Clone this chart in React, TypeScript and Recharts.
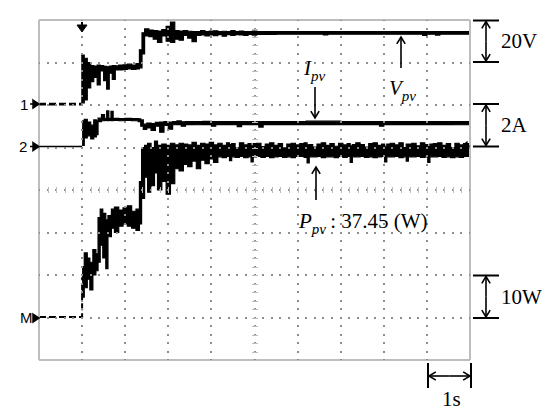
import {
  Area,
  ComposedChart,
  Line,
  Scatter,
  XAxis,
  YAxis,
} from "recharts";

// scope screen: 10 div x 8 div, 1 s/div
const gridX = [1, 2, 3, 4, 5, 6, 7, 8, 9];
const gridY = [1, 2, 3, 4, 5, 6, 7];
const minorX = Array.from({ length: 51 }, (_, k) => k / 5);
const minorY = Array.from({ length: 41 }, (_, k) => k / 5);

// channel 1: Vpv, 20 V/div, ground at div 6  -> [t, min, max]
const vpv = [
  [0.98, 1.0, 23.5], [1.05, 2.4, 22.0], [1.12, 8.0, 20.0], [1.2, 11.0, 18.6],
  [1.27, 13.0, 18.3], [1.35, 9.5, 18.8], [1.42, 16.0, 18.5], [1.5, 11.5, 18.2],
  [1.57, 7.5, 18.0], [1.63, 15.0, 18.3], [1.7, 12.0, 18.5], [1.77, 16.5, 18.4],
  [1.85, 16.5, 18.8], [1.95, 16.8, 18.9], [2.05, 17.0, 19.2], [2.15, 16.8, 18.8],
  [2.25, 17.0, 19.5], [2.33, 17.5, 26.0], [2.39, 24.0, 34.0], [2.45, 32.5, 35.8],
  [2.55, 32.2, 35.3], [2.65, 31.0, 35.0], [2.75, 29.5, 34.8], [2.85, 32.5, 35.5],
  [2.95, 30.0, 37.0], [3.05, 29.5, 39.0], [3.15, 31.0, 35.0], [3.25, 30.5, 34.8],
  [3.35, 32.8, 35.0], [3.45, 31.5, 34.7], [3.55, 29.8, 34.5], [3.65, 32.8, 34.6],
  [3.75, 33.0, 35.0], [3.85, 32.5, 34.6], [3.95, 33.0, 34.8], [4.05, 32.6, 34.9],
  [4.15, 33.1, 34.6], [4.25, 32.4, 34.7], [4.35, 33.1, 34.6], [4.45, 32.7, 35.0],
  [4.55, 33.1, 34.6], [4.65, 33.0, 34.8], [4.75, 32.8, 34.6], [4.85, 33.2, 34.6],
  [4.95, 32.9, 34.8], [5.05, 33.2, 34.6], [5.5, 33.3, 34.5], [6.6, 33.0, 34.6],
  [6.7, 33.3, 34.5], [8.9, 32.8, 34.5], [9.0, 33.3, 34.5], [9.2, 32.9, 34.6],
  [9.3, 33.3, 34.5], [10, 33.3, 34.5],
];

// channel 2: Ipv, 2 A/div, ground at div 5
const ipv = [
  [1.0, 0.1, 1.25], [1.05, 0.45, 1.32], [1.12, 0.55, 1.2], [1.2, 0.4, 1.05],
  [1.27, 0.5, 1.3], [1.33, 0.6, 1.25], [1.37, 1.22, 1.38], [1.45, 1.26, 1.55],
  [1.52, 1.27, 1.37], [1.57, 1.26, 1.72], [1.62, 1.27, 1.37], [1.67, 1.26, 1.7],
  [1.72, 1.27, 1.37], [1.85, 1.26, 1.36], [2.0, 1.27, 1.37], [2.15, 1.26, 1.36],
  [2.3, 1.22, 1.35], [2.36, 1.0, 1.3], [2.42, 0.85, 1.1], [2.5, 0.92, 1.15],
  [2.6, 0.8, 1.13], [2.7, 1.0, 1.18], [2.8, 0.72, 1.2], [2.9, 1.04, 1.22],
  [3.0, 0.86, 1.2], [3.1, 1.07, 1.22], [3.2, 1.08, 1.25], [3.3, 1.0, 1.21],
  [3.4, 1.08, 1.22], [3.6, 1.07, 1.22], [3.8, 1.08, 1.23], [4.0, 1.0, 1.22],
  [4.1, 1.08, 1.22], [4.6, 0.98, 1.22], [4.7, 1.08, 1.22], [5.1, 0.96, 1.22],
  [5.2, 1.08, 1.22], [6.2, 1.08, 1.24], [7.0, 1.08, 1.22], [7.9, 1.0, 1.22],
  [8.0, 1.08, 1.22], [9.6, 1.07, 1.22], [10, 1.08, 1.22],
];

// math channel: Ppv, 10 W/div, ground at div 1
const ppv = [
  [1.0, 4.8, 12.0], [1.05, 7.0, 15.2], [1.12, 9.0, 14.0], [1.18, 6.5, 13.0],
  [1.25, 10.0, 16.0], [1.32, 11.0, 15.0], [1.37, 13.0, 23.5], [1.42, 17.0, 25.5],
  [1.48, 14.0, 24.5], [1.55, 11.5, 23.0], [1.6, 19.0, 24.0], [1.68, 21.0, 25.5],
  [1.75, 20.0, 26.0], [1.85, 21.5, 25.3], [1.95, 22.0, 25.8], [2.05, 21.5, 26.3],
  [2.15, 21.0, 25.0], [2.25, 20.5, 25.5], [2.33, 22.0, 32.0], [2.38, 28.0, 40.0],
  [2.45, 33.0, 40.5], [2.52, 29.5, 41.0], [2.6, 31.0, 40.0], [2.68, 34.0, 41.5],
  [2.75, 30.0, 40.5], [2.85, 32.0, 40.8], [2.95, 29.0, 40.5], [3.05, 31.5, 41.0],
  [3.15, 35.0, 40.6], [3.25, 34.5, 41.0], [3.35, 36.0, 40.8], [3.45, 35.5, 40.6],
  [3.55, 36.8, 41.2], [3.65, 35.0, 40.5], [3.75, 37.0, 41.0], [3.85, 36.2, 40.8],
  [3.95, 37.3, 41.2], [4.05, 36.5, 40.6], [4.15, 37.8, 41.0], [4.25, 37.6, 40.5],
  [4.35, 37.9, 41.1], [4.42, 36.9, 40.7], [4.47, 37.8, 40.9], [4.55, 37.7, 39.9],
  [4.65, 37.9, 41.1], [4.75, 37.6, 40.6], [4.85, 37.8, 40.9], [4.92, 36.6, 40.4],
  [4.97, 37.8, 40.9], [5.05, 37.9, 41.0], [5.15, 37.7, 40.2], [5.25, 37.9, 40.8],
  [5.35, 37.6, 41.1], [5.45, 37.8, 40.5], [5.55, 37.9, 40.9], [5.65, 37.7, 39.9],
  [5.75, 37.8, 40.8], [5.85, 37.6, 41.0], [5.95, 37.9, 40.6], [6.05, 37.9, 40.9],
  [6.15, 37.7, 41.1], [6.22, 36.4, 40.6], [6.27, 37.8, 40.7], [6.35, 37.8, 40.1],
  [6.45, 37.9, 40.8], [6.55, 37.6, 41.1], [6.65, 37.8, 40.5], [6.75, 37.8, 40.9],
  [6.85, 37.6, 40.3], [6.95, 37.9, 41.0], [7.05, 37.7, 40.6], [7.15, 37.9, 40.9],
  [7.22, 36.5, 40.4], [7.27, 37.8, 40.7], [7.35, 37.8, 41.1], [7.45, 37.9, 40.7],
  [7.55, 37.7, 40.1], [7.65, 37.8, 40.9], [7.75, 37.6, 41.1], [7.85, 37.8, 40.5],
  [7.95, 37.9, 40.8], [8.02, 36.6, 40.3], [8.07, 37.8, 40.8], [8.15, 37.8, 41.0],
  [8.25, 37.9, 40.6], [8.35, 37.6, 41.1], [8.45, 37.8, 40.0], [8.52, 36.8, 40.8],
  [8.57, 37.8, 40.8], [8.65, 37.8, 41.0], [8.75, 37.9, 40.4], [8.85, 37.7, 41.1],
  [8.95, 37.8, 40.7], [9.02, 36.5, 40.2], [9.07, 37.8, 40.8], [9.15, 37.8, 40.9],
  [9.25, 37.9, 41.1], [9.35, 37.7, 40.5], [9.45, 37.8, 40.9], [9.55, 37.6, 40.0],
  [9.65, 37.8, 41.0], [9.75, 37.7, 40.6], [9.85, 37.9, 40.9], [10, 37.8, 40.7],
];

// pre-trigger traces (t, value)
const vBase = [[0, 0.4], [0.98, 0.4]];
const iBase = [[0, 0.05], [1.0, 0.05]];
const pBase = [[0, 0.1], [1.0, 0.1], [1.0, 9.5]];

const toRange = (rows: number[][]) => rows.map(([t, lo, hi]) => ({ t, r: [lo, hi] }));
const toPts = (rows: number[][]) => rows.map(([t, y]) => ({ t, y }));

// graticule marks: dots along inner grid lines, small ticks on the centre cross
const graticule = [
  ...gridY.flatMap((d) => minorX.map((t) => ({ t, d, k: "dot" }))),
  ...gridX.flatMap((t) => minorY.map((d) => ({ t, d, k: "dot" }))),
  ...minorY.slice(1, -1).map((d) => ({ t: 5, d, k: "h" })),
  ...minorX.slice(1, -1).map((t) => ({ t, d: 4, k: "v" })),
];

const INK = "#000";
const FRAME = "#bdbdbd";
const DOTS = "#8e8e8e";
const serif = "'Liberation Serif', 'Times New Roman', serif";
const sans = "'Liberation Sans', Arial, sans-serif";

const mark = (p: any) => {
  const x = Math.round(p.cx);
  const y = Math.round(p.cy);
  const k = p.payload?.k ?? p.k;
  if (k === "h")
    return <line x1={x - 3} x2={x + 3} y1={y + 0.5} y2={y + 0.5} stroke={FRAME} strokeWidth={1} />;
  if (k === "v")
    return <line x1={x + 0.5} x2={x + 0.5} y1={y - 3} y2={y + 3} stroke={FRAME} strokeWidth={1} />;
  return <rect x={x - 1} y={y - 1} width={2} height={2} fill={DOTS} />;
};

function Arrow({ x1, y1, x2, y2 }: { x1: number; y1: number; x2: number; y2: number }) {
  const a = Math.atan2(y2 - y1, x2 - x1);
  const s = 8;
  const w = 0.55;
  const p1 = [x2 - s * Math.cos(a - w), y2 - s * Math.sin(a - w)];
  const p2 = [x2 - s * Math.cos(a + w), y2 - s * Math.sin(a + w)];
  return (
    <g stroke={INK} strokeWidth={1.6} fill="none">
      <line x1={x1} y1={y1} x2={x2} y2={y2} />
      <polyline points={`${p1[0]},${p1[1]} ${x2},${y2} ${p2[0]},${p2[1]}`} />
    </g>
  );
}

function Scale({ y1, y2, text }: { y1: number; y2: number; text: string }) {
  const mid = (y1 + y2) / 2;
  return (
    <g>
      <line x1={473} x2={499} y1={y1} y2={y1} stroke={INK} strokeWidth={2} />
      <line x1={473} x2={499} y1={y2} y2={y2} stroke={INK} strokeWidth={2} />
      <Arrow x1={486} y1={mid} x2={486} y2={y1 + 1} />
      <Arrow x1={486} y1={mid} x2={486} y2={y2 - 1} />
      <text x={501} y={mid + 7} fontFamily={serif} fontSize={21}>{text}</text>
    </g>
  );
}

function Overlay() {
  return (
    <svg
      width={550}
      height={417}
      style={{ position: "absolute", left: -8, top: -8, pointerEvents: "none" }}
    >
      {/* channel markers */}
      <g fontFamily={sans} fontSize={15} fill={INK}>
        <text x={20} y={110}>1</text>
        <text x={19} y={152}>2</text>
        <text x={20} y={323}>M</text>
      </g>
      <path d="M30,104 L35,104 M33,100 L39,104 L33,108 Z" stroke={INK} strokeWidth={1.5} fill={INK} />
      <path d="M30,146.5 L35,146.5 M33,142.5 L39,146.5 L33,150.5 Z" stroke={INK} strokeWidth={1.5} fill={INK} />
      <path d="M33,318 L35,318 M33,314 L39,318 L33,322 Z" stroke={INK} strokeWidth={1.5} fill={INK} />
      {/* trigger position / level */}
      <path d="M77,25 L87,25 L82,32 Z" fill={INK} stroke={INK} strokeWidth={1} />
      <line x1={82} x2={82} y1={22} y2={27} stroke={INK} strokeWidth={2} />
      <path d="M462,146 L467,142 L467,150 Z M466,146 L470,146" fill={INK} stroke={INK} strokeWidth={1.2} />

      {/* scale bars */}
      <Scale y1={20.5} y2={62} text="20V" />
      <Scale y1={104} y2={146.5} text="2A" />
      <Scale y1={275.5} y2={318} text="10W" />
      <line x1={428} x2={428} y1={363} y2={388} stroke={INK} strokeWidth={2} />
      <line x1={471} x2={471} y1={363} y2={388} stroke={INK} strokeWidth={2} />
      <Arrow x1={449.5} y1={376} x2={429} y2={376} />
      <Arrow x1={449.5} y1={376} x2={470} y2={376} />
      <text x={442} y={406} fontFamily={serif} fontSize={21}>1s</text>

      {/* trace labels */}
      <text x={304} y={75} fontFamily={serif} fontSize={21} fontStyle="italic">
        I<tspan fontSize={15} dy={6}>pv</tspan>
      </text>
      <Arrow x1={315} y1={87} x2={315} y2={118} />
      <text x={389} y={95} fontFamily={serif} fontSize={21} fontStyle="italic">
        V<tspan fontSize={15} dy={6}>pv</tspan>
      </text>
      <Arrow x1={401} y1={68} x2={401} y2={37} />
      <text x={299} y={228} fontFamily={serif} fontSize={21}>
        <tspan fontStyle="italic">P</tspan>
        <tspan fontStyle="italic" fontSize={15} dy={6}>pv</tspan>
        <tspan dy={-6}>{"\u2009: 37.45 (W)"}</tspan>
      </text>
      <Arrow x1={316} y1={200} x2={316} y2={167} />
    </svg>
  );
}

const frameAxis = {
  tick: false as const,
  tickSize: 4,
  interval: 0 as const,
  mirror: true,
  axisLine: { stroke: FRAME, strokeWidth: 2 },
  tickLine: { stroke: FRAME, strokeWidth: 1.2 },
};

export default function App() {
  return (
    <div style={{ position: "relative", width: 542, height: 409, background: "#fff" }}>
      <ComposedChart
        width={542}
        height={409}
        margin={{ top: 12, right: 80, bottom: 57, left: 31 }}
      >
        <XAxis
          xAxisId="t"
          dataKey="t"
          type="number"
          domain={[0, 10]}
          ticks={minorX}
          orientation="bottom"
          allowDataOverflow
          {...frameAxis}
        />
        <XAxis
          xAxisId="top"
          type="number"
          domain={[0, 10]}
          ticks={minorX}
          orientation="top"
          {...frameAxis}
        />
        <YAxis
          yAxisId="div"
          dataKey="d"
          type="number"
          domain={[0, 8]}
          ticks={minorY}
          orientation="left"
          allowDataOverflow
          {...frameAxis}
        />
        <YAxis
          yAxisId="divR"
          type="number"
          domain={[0, 8]}
          ticks={minorY}
          orientation="right"
          {...frameAxis}
        />
        <YAxis yAxisId="v" type="number" domain={[-120, 40]} hide allowDataOverflow />
        <YAxis yAxisId="i" type="number" domain={[-10, 6]} hide allowDataOverflow />
        <YAxis yAxisId="p" type="number" domain={[-10, 70]} hide allowDataOverflow />

        <Scatter
          xAxisId="t"
          yAxisId="div"
          data={graticule}
          shape={mark}
          isAnimationActive={false}
        />

        <Line
          xAxisId="t"
          yAxisId="v"
          data={toPts(vBase)}
          dataKey="y"
          stroke={INK}
          strokeWidth={2.6}
          strokeDasharray="7 3"
          dot={false}
          activeDot={false}
          isAnimationActive={false}
        />
        <Line
          xAxisId="t"
          yAxisId="i"
          data={toPts(iBase)}
          dataKey="y"
          stroke={INK}
          strokeWidth={1.6}
          dot={false}
          activeDot={false}
          isAnimationActive={false}
        />
        <Line
          xAxisId="t"
          yAxisId="p"
          data={toPts(pBase)}
          dataKey="y"
          stroke={INK}
          strokeWidth={2}
          strokeDasharray="7 3"
          dot={false}
          activeDot={false}
          isAnimationActive={false}
        />
        <Area
          xAxisId="t"
          yAxisId="v"
          data={toRange(vpv)}
          dataKey="r"
          type="stepAfter"
          stroke={INK}
          strokeWidth={1.2}
          fill={INK}
          fillOpacity={1}
          dot={false}
          activeDot={false}
          isAnimationActive={false}
        />
        <Area
          xAxisId="t"
          yAxisId="i"
          data={toRange(ipv)}
          dataKey="r"
          type="stepAfter"
          stroke={INK}
          strokeWidth={1.2}
          fill={INK}
          fillOpacity={1}
          dot={false}
          activeDot={false}
          isAnimationActive={false}
        />
        <Area
          xAxisId="t"
          yAxisId="p"
          data={toRange(ppv)}
          dataKey="r"
          type="stepAfter"
          stroke={INK}
          strokeWidth={1.2}
          fill={INK}
          fillOpacity={1}
          dot={false}
          activeDot={false}
          isAnimationActive={false}
        />
      </ComposedChart>
      <Overlay />
    </div>
  );
}
